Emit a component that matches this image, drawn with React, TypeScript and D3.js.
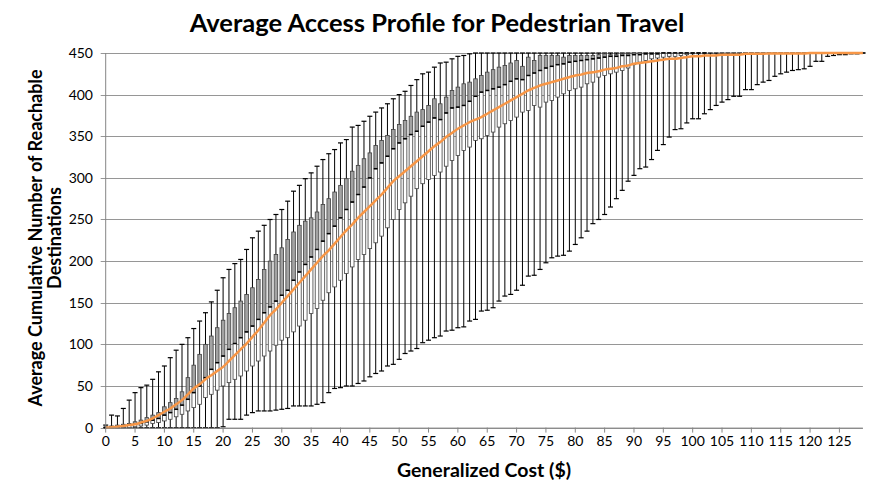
import React from "react";
import * as d3 from "d3";

const W = 873;
const H = 491;

const titleText = "Average Access Profile for Pedestrian Travel";
const xTitle = "Generalized Cost ($)";
const yTitleLines = ["Average Cumulative Number of Reachable", "Destinations"];

const costs = d3.range(130);
const xTickLabels = d3.range(0, 130, 5);
const yTickLabels = [0, 50, 100, 150, 200, 250, 300, 350, 400, 450];

const minV = [
  0, 0, 0, 0, 0, 0, 0, 0, 0, 0,
  0, 0, 0, 0, 0, 0, 0, 0, 0, 0,
  1, 10, 10, 10, 15, 18, 20, 20, 20, 21,
  22, 23, 26, 26, 26, 26, 28, 30, 42, 47,
  48, 50, 50, 53, 56, 61, 65, 68, 74, 76,
  82, 89, 92, 95, 102, 105, 108, 110, 116, 117,
  120, 121, 128, 130, 140, 141, 144, 152, 158, 160,
  165, 171, 182, 183, 190, 198, 204, 206, 207, 212,
  220, 228, 236, 245, 250, 256, 265, 275, 285, 296,
  303, 311, 313, 322, 333, 340, 349, 358, 359, 366,
  371, 371, 377, 382, 387, 391, 394, 398, 398, 406,
  406, 412, 415, 417, 422, 425, 427, 429, 430, 431,
  434, 440, 440, 446, 447, 448, 448, 449, 449, 450,
];

const q1V = [
  0, 0, 0, 0, 0, 1, 2, 3, 5, 6,
  8, 10, 13, 16, 20, 24, 28, 36, 40, 45,
  50, 54, 58, 62, 68, 74, 80, 86, 92, 99,
  105, 108, 115, 122, 129, 137, 143, 153, 162, 169,
  177, 185, 193, 202, 208, 215, 222, 230, 240, 250,
  262, 270, 278, 287, 293, 298, 303, 307, 314, 321,
  327, 333, 337, 345, 347, 351, 355, 361, 365, 369,
  373, 379, 381, 387, 385, 391, 393, 397, 401, 405,
  407, 409, 413, 415, 421, 423, 425, 427, 429, 432,
  436, 439, 441, 443, 444, 445, 446, 446, 447, 448,
  449, 449, 449, 450, 450, 450, 450, 450, 450, 450,
  450, 450, 450, 450, 450, 450, 450, 450, 450, 450,
  450, 450, 450, 450, 450, 450, 450, 450, 450, 450,
];

const medianV = [
  0, 1, 1, 2, 3, 4, 5, 7, 9, 11,
  15, 18, 22, 27, 34, 42, 50, 60, 70, 78,
  86, 94, 101, 108, 115, 122, 130, 138, 145, 152,
  159, 165, 177, 187, 196, 205, 214, 224, 233, 242,
  252, 262, 271, 280, 289, 300, 311, 318, 326, 335,
  342, 347, 352, 356, 362, 367, 372, 370, 378, 384,
  385, 387, 392, 398, 403, 405, 407, 409, 412, 416,
  419, 418, 423, 426, 429, 432, 434, 436, 437, 439,
  440, 441, 442, 443, 444, 445, 446, 446, 447, 447,
  448, 448, 449, 449, 449, 450, 450, 450, 450, 450,
  450, 450, 450, 450, 450, 450, 450, 450, 450, 450,
  450, 450, 450, 450, 450, 450, 450, 450, 450, 450,
  450, 450, 450, 450, 450, 450, 450, 450, 450, 450,
];

const q3V = [
  1, 2, 3, 4, 5, 7, 9, 12, 15, 18,
  25, 30, 35, 43, 60, 75, 88, 100, 110, 120,
  129, 137, 144, 152, 160, 168, 178, 190, 200, 208,
  216, 226, 235, 243, 248, 252, 259, 268, 275, 283,
  291, 299, 308, 315, 323, 330, 339, 345, 351, 358,
  364, 369, 374, 379, 382, 387, 395, 389, 397, 405,
  409, 413, 415, 419, 423, 427, 430, 433, 435, 438,
  441, 434, 445, 441, 447, 447, 447, 447, 445, 447,
  447, 447, 447, 447, 448, 449, 448, 448, 449, 449,
  450, 450, 450, 450, 450, 450, 450, 450, 450, 450,
  450, 450, 450, 450, 450, 450, 450, 450, 450, 450,
  450, 450, 450, 450, 450, 450, 450, 450, 450, 450,
  450, 450, 450, 450, 450, 450, 450, 450, 450, 450,
];

const maxV = [
  3, 15, 14, 23, 33, 42, 48, 51, 58, 67,
  74, 84, 93, 100, 108, 119, 128, 138, 151, 165,
  180, 190, 197, 202, 214, 228, 236, 243, 250, 256,
  262, 272, 284, 291, 299, 306, 314, 322, 329, 334,
  342, 346, 361, 363, 368, 374, 379, 384, 389, 395,
  400, 404, 411, 418, 425, 427, 433, 438, 439, 443,
  446, 447, 449, 450, 450, 450, 450, 450, 450, 450,
  450, 450, 450, 450, 450, 450, 450, 450, 450, 450,
  450, 450, 450, 450, 450, 450, 450, 450, 450, 450,
  450, 450, 450, 450, 450, 450, 450, 450, 450, 450,
  450, 450, 450, 450, 450, 450, 450, 450, 450, 450,
  450, 450, 450, 450, 450, 450, 450, 450, 450, 450,
  450, 450, 450, 450, 450, 450, 450, 450, 450, 450,
];

const meanV = [
  0, 0.5, 1, 2, 3, 4, 6, 8, 11, 15,
  19, 23, 28, 33, 40, 47, 52, 58, 63, 68,
  73, 80, 87, 94, 101, 109, 117, 126, 135, 142,
  150, 158, 166, 174, 182, 190, 198, 206, 213, 221,
  229, 237, 244, 252, 259, 266, 273, 280, 288, 296,
  302, 308, 314, 320, 326, 332, 338, 343, 349, 354,
  359, 363, 367, 370, 373, 377, 381, 385, 389, 393,
  397, 401, 405, 408, 411, 413, 415, 417, 419, 421,
  423, 424, 426, 427, 428, 430, 431, 432, 434, 435,
  437, 438, 439, 440, 441, 442, 443, 443, 444, 445,
  446, 446, 447, 447, 447, 448, 448, 448, 448, 449,
  449, 449, 449, 449.5, 449.5, 449.5, 449.5, 449.5, 449.5, 449.5,
  450, 450, 450, 450, 450, 450, 450, 450, 450, 450,
];

const FONT = "Lato, 'Open Sans', sans-serif";

export default function App() {
  const left = 105.7;
  const right = 862.9;
  const top = 53;
  const bottom = 427.6;

  const x = d3.scaleLinear().domain([0, 129]).range([left, right]);
  const y = d3.scaleLinear().domain([0, 450]).range([bottom, top]);

  const boxW = 3.6;
  const capW = 5;
  const line = d3
    .line<number>()
    .x((_, i) => x(costs[i]))
    .y((d) => y(d))
    .curve(d3.curveMonotoneX);

  return (
    <svg
      width={W}
      height={H}
      style={{ position: "absolute", left: 0, top: 0, background: "#fff" }}
      fontFamily={FONT}
    >
      <rect x={0} y={0} width={W} height={H} fill="#fff" />
      <text
        x={437}
        y={32}
        textAnchor="middle"
        fontSize={25.5}
        fontWeight={700}
        fill="#000"
      >
        {titleText}
      </text>

      {/* gridlines */}
      {yTickLabels.map((v) => (
        <g key={"g" + v}>
          <line
            x1={left - 5}
            x2={right}
            y1={Math.round(y(v)) + 0.5}
            y2={Math.round(y(v)) + 0.5}
            stroke="#969696"
            strokeWidth={1}
          />
          <text
            x={93}
            y={y(v) + 5}
            textAnchor="end"
            fontSize={14}
            fill="#000"
          >
            {v}
          </text>
        </g>
      ))}

      {/* whiskers */}
      {costs.map((c, i) => {
        const cx = x(c);
        return (
          <g key={"w" + i} stroke="#000" strokeWidth={1}>
            <line x1={cx} x2={cx} y1={y(minV[i])} y2={y(maxV[i])} />
            <line x1={cx - capW / 2} x2={cx + capW / 2} y1={y(minV[i])} y2={y(minV[i])} strokeWidth={1.2} />
            <line x1={cx - capW / 2} x2={cx + capW / 2} y1={y(maxV[i])} y2={y(maxV[i])} strokeWidth={1.2} />
          </g>
        );
      })}

      {/* boxes */}
      {costs.map((c, i) => {
        const cx = x(c);
        const yQ1 = y(q1V[i]);
        const yMed = y(medianV[i]);
        const yQ3 = y(q3V[i]);
        if (q3V[i] - q1V[i] <= 0) return null;
        return (
          <g key={"b" + i}>
            <rect
              x={cx - boxW / 2}
              y={yMed}
              width={boxW}
              height={Math.max(0, yQ1 - yMed)}
              fill="#ffffff"
              stroke="#404040"
              strokeWidth={0.8}
            />
            <rect
              x={cx - boxW / 2}
              y={yQ3}
              width={boxW}
              height={Math.max(0, yMed - yQ3)}
              fill="#a3a3a3"
              stroke="#404040"
              strokeWidth={0.8}
            />
            <line
              x1={cx - boxW / 2}
              x2={cx + boxW / 2}
              y1={yMed}
              y2={yMed}
              stroke="#000"
              strokeWidth={1.5}
            />
          </g>
        );
      })}

      {/* mean line */}
      <path
        d={line(meanV) || ""}
        fill="none"
        stroke="#f79646"
        strokeWidth={2.5}
      />

      {/* axes */}
      <line x1={left} x2={left} y1={top} y2={bottom} stroke="#868686" strokeWidth={1} />
      <line x1={left} x2={right} y1={bottom + 0.5} y2={bottom + 0.5} stroke="#868686" strokeWidth={1} />
      {xTickLabels.map((v) => (
        <g key={"x" + v}>
          <line
            x1={x(v)}
            x2={x(v)}
            y1={bottom}
            y2={bottom + 5}
            stroke="#868686"
            strokeWidth={1}
          />
          <text x={x(v)} y={446} textAnchor="middle" fontSize={14} fill="#000">
            {v}
          </text>
        </g>
      ))}

      <text
        x={484}
        y={477}
        textAnchor="middle"
        fontSize={19.5}
        fontWeight={700}
        fill="#000"
      >
        {xTitle}
      </text>

      <g transform={`translate(0, 238) rotate(-90)`}>
        <text x={0} y={42} textAnchor="middle" fontSize={18} fontWeight={700} fill="#000">
          {yTitleLines[0]}
        </text>
        <text x={0} y={61} textAnchor="middle" fontSize={18} fontWeight={700} fill="#000">
          {yTitleLines[1]}
        </text>
      </g>
    </svg>
  );
}
